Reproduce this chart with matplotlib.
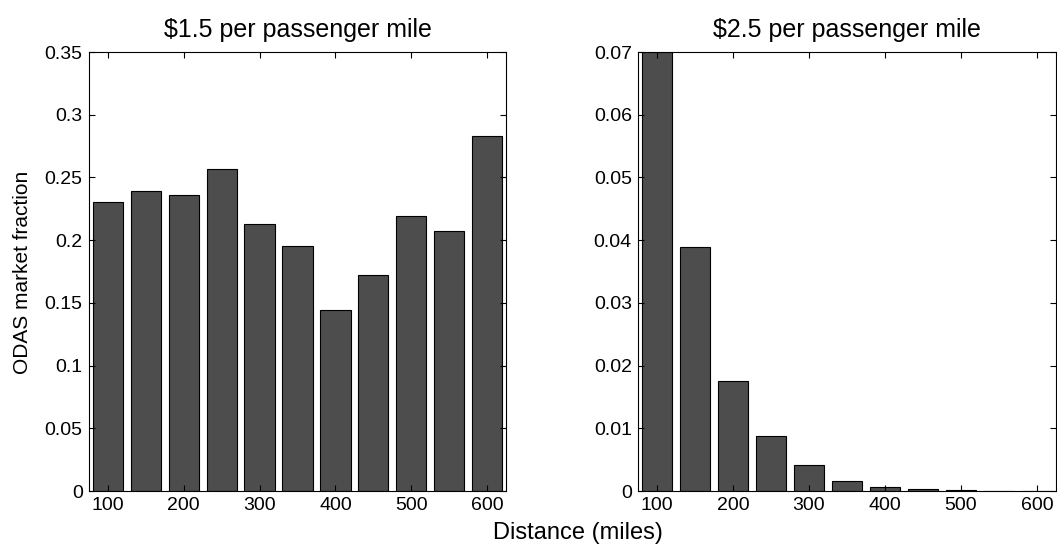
import numpy as np
import matplotlib
matplotlib.use('Agg')
import matplotlib.pyplot as plt

plt.rcParams['font.family'] = ['Liberation Sans', 'DejaVu Sans']

distance = [100, 150, 200, 250, 300, 350, 400, 450, 500, 550, 600]
frac_15 = [0.2307, 0.2392, 0.2362, 0.2565, 0.2131, 0.1953, 0.1441, 0.1722, 0.2192, 0.2070, 0.2833]
frac_25 = [0.0700, 0.0389, 0.01754, 0.00877, 0.0041, 0.0016, 0.0006, 0.0003, 0.0001, 0.0, 0.0]
titles = ['$1.5 per passenger mile', '$2.5 per passenger mile']
yticks_15 = [0, 0.05, 0.1, 0.15, 0.2, 0.25, 0.3, 0.35]
yticks_25 = [0, 0.01, 0.02, 0.03, 0.04, 0.05, 0.06, 0.07]

fig = plt.figure(figsize=(10.57, 5.44), dpi=100)
ax1 = fig.add_axes([0.0842, 0.0974, 0.3945, 0.807])
ax2 = fig.add_axes([0.6036, 0.0974, 0.3955, 0.807])

for ax, vals, title, yt in [(ax1, frac_15, titles[0], yticks_15),
                            (ax2, frac_25, titles[1], yticks_25)]:
    ax.bar(distance, vals, width=40, color='#4d4d4d', edgecolor='black', linewidth=0.8)
    ax.set_xlim(75, 625)
    ax.set_ylim(0, yt[-1])
    ax.set_yticks(yt)
    ax.set_yticklabels(['0' if v == 0 else ('%g' % v) for v in yt])
    ax.set_xticks([100, 200, 300, 400, 500, 600])
    ax.tick_params(direction='in', top=True, right=True, labelsize=14, length=4, pad=4.5)
    ax.set_title(title.replace('$', r'\$'), fontsize=18, pad=11)
    for s in ax.spines.values():
        s.set_linewidth(0.8)

fig.text(22.5 / 1057, 0.499, 'ODAS market fraction', rotation=90,
         ha='center', va='center', fontsize=15)
fig.text(0.547, 0.0202, 'Distance (miles)', ha='center', va='center', fontsize=17)

fig.savefig('out.png', dpi=100)
